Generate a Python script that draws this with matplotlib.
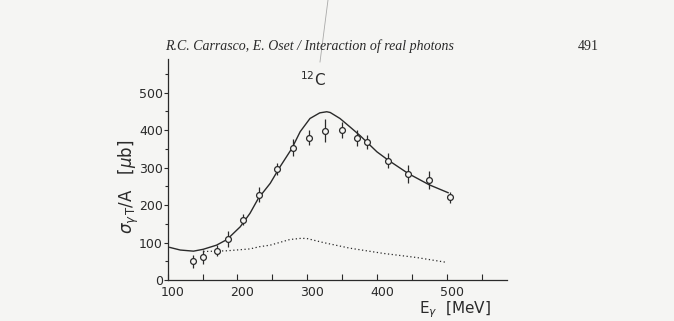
import numpy as np
import matplotlib
matplotlib.use("Agg")
import matplotlib.pyplot as plt
import matplotlib.transforms as mtransforms
from matplotlib.ticker import MultipleLocator

# measured points (E_gamma in MeV, sigma/A in microbarn)
e_data = [136, 150, 170, 186, 207.5, 231, 256, 279, 303, 326, 350, 371, 386, 416, 445, 475, 505]
s_data = [50, 61, 78, 110, 161, 228, 296, 353, 380, 398, 401, 378, 368, 318, 283, 267, 221]
s_err = [18, 18, 15, 22, 15, 20, 16, 22, 21, 31, 21, 21, 18, 20, 24, 25, 15]

# full calculation (solid line)
e_full = [103, 118, 137, 151, 170, 185, 204, 218, 230, 247, 261, 278, 290, 304,
          318, 328, 333, 347, 361, 376, 400, 416, 445, 475, 502]
s_full = [87, 80, 77, 82, 93, 108, 142, 178, 218, 258, 302, 351, 396, 431,
          446, 449, 447, 431, 409, 385, 342, 320, 284, 254, 233]

# dotted curve
e_dot = [151, 185, 218, 232, 247, 275, 290, 299, 323, 361, 409, 457, 500]
s_dot = [76, 78, 83, 89, 93, 108, 111, 111, 100, 85, 71, 60, 47]

x_ticks = [100, 200, 300, 400, 500]
y_ticks = [0, 100, 200, 300, 400, 500]

paper = "#f5f5f3"
ink = "#2a2a2a"

fig = plt.figure(figsize=(6.74, 3.21), dpi=100, facecolor=paper)
ax = fig.add_axes([0.2488, 0.1277, 0.504, 0.6888], facecolor=paper)

ax.plot(e_full, s_full, color=ink, lw=1.0)
ax.plot(e_dot, s_dot, color=ink, lw=0.9, ls=(0, (1, 2)))
ax.errorbar(e_data, s_data, yerr=s_err, fmt="o", ms=4.2, mfc=paper, mec=ink,
            mew=0.9, ecolor=ink, elinewidth=0.9, capsize=0)

ax.set_xlim(100, 587)
ax.set_ylim(0, 590)
ax.spines["top"].set_visible(False)
ax.spines["right"].set_visible(False)
for s in ("left", "bottom"):
    ax.spines[s].set_color(ink)
    ax.spines[s].set_linewidth(0.9)

ax.set_xticks(x_ticks)
ax.set_yticks(y_ticks)
ax.xaxis.set_minor_locator(MultipleLocator(50))
ax.yaxis.set_minor_locator(MultipleLocator(50))
ax.tick_params(axis="x", which="both", direction="in", length=4, width=0.8,
               color=ink, labelsize=9, labelcolor=ink, pad=4.5)
ax.tick_params(axis="y", which="major", direction="out", length=3, width=0.8,
               color=ink, labelsize=9, labelcolor=ink, pad=0.5)
ax.tick_params(axis="y", which="minor", direction="out", length=2.5, width=0.8, color=ink)

# x numbers sit a little right of their ticks on the scan
shift = mtransforms.ScaledTranslation(5 / 100, 0, fig.dpi_scale_trans)
for lab in ax.get_xticklabels():
    lab.set_transform(lab.get_transform() + shift)

# axis titles placed where the scan has them
fig.text(129 / 674, 1 - 187 / 321, r"$\sigma_{\gamma\,\mathrm{T}}$/A   [$\mu$b]",
         fontsize=12, color=ink, rotation=90, ha="center", va="center")
fig.text(455 / 674, 1 - 310 / 321, r"E$_\gamma$  [MeV]", fontsize=11, color=ink,
         ha="center", va="center")
fig.text(313 / 674, 1 - 80 / 321, r"$^{12}$C", fontsize=11, color=ink,
         ha="center", va="center")

# running head of the page
fig.text(165 / 674, 1 - 46 / 321, "R.C. Carrasco, E. Oset / Interaction of real photons",
         family="Liberation Serif", style="italic", fontsize=10, color=ink,
         ha="left", va="center")
fig.text(578 / 674, 1 - 46 / 321, "491", family="Liberation Serif", fontsize=10,
         color=ink, ha="left", va="center")

# pen stroke on the scan
fig.add_artist(plt.Line2D([328 / 674, 320 / 674], [1.0, 1 - 62 / 321],
                          color="#777777", lw=0.6, alpha=0.6))

fig.savefig("out.png", dpi=100, facecolor=paper)
